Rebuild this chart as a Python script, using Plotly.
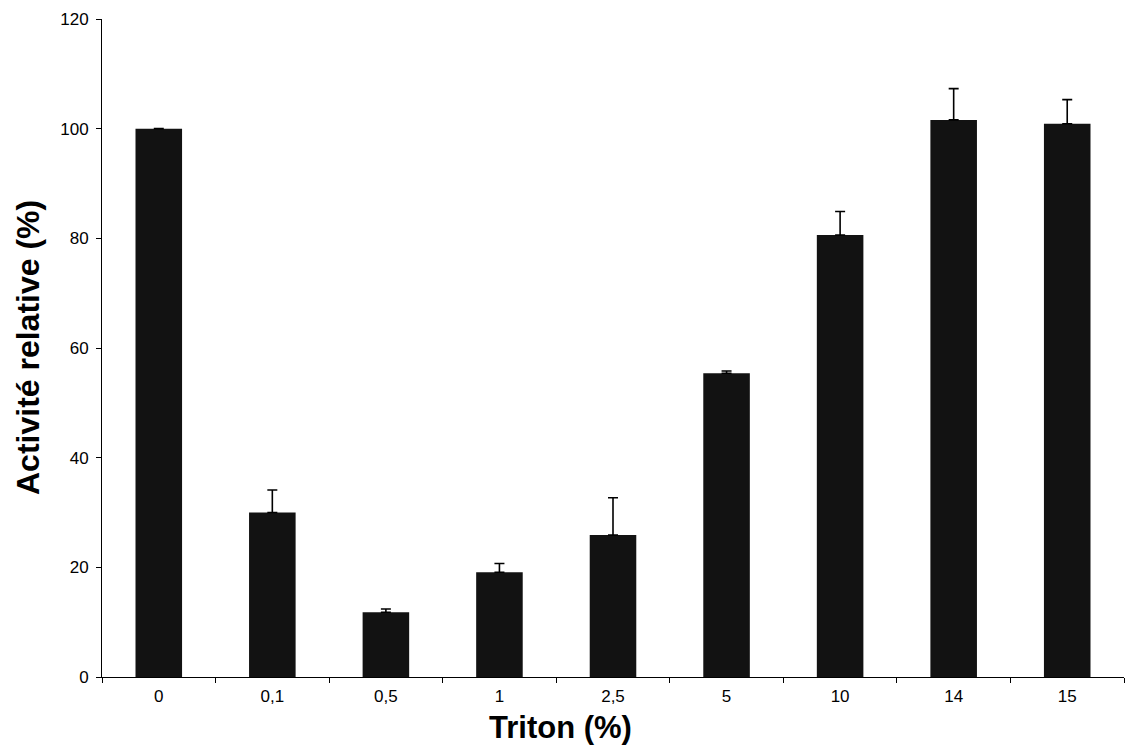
import plotly.graph_objects as go

categories = ["0", "0,1", "0,5", "1", "2,5", "5", "10", "14", "15"]
activite = [100, 30, 11.8, 19.1, 25.9, 55.4, 80.6, 101.6, 100.9]
erreur = [None, 4.1, 0.6, 1.6, 6.8, 0.4, 4.3, 5.7, 4.4]

FONT = "Liberation Sans, Arial, sans-serif"

fig = go.Figure()
fig.add_trace(go.Bar(
    x=categories,
    y=activite,
    width=0.41,
    marker=dict(color="#121212", line=dict(width=0)),
    error_y=dict(type="data", array=erreur, arrayminus=[0] * len(erreur),
                 symmetric=False, color="black", thickness=1.6, width=5),
    showlegend=False,
))

fig.update_layout(
    width=1127, height=753,
    margin=dict(l=102, r=3, t=19, b=76),
    paper_bgcolor="white", plot_bgcolor="white",
    font=dict(family=FONT, color="black", size=17),
    bargap=0.59,
    xaxis=dict(
        type="category",
        showline=True, linecolor="black", linewidth=1,
        ticks="outside", tickson="boundaries", ticklen=5, tickcolor="black",
        showgrid=False, tickfont=dict(size=17, family=FONT),
        ticklabelstandoff=4,
    ),
    yaxis=dict(
        range=[0, 120], dtick=20, tick0=0,
        showline=True, linecolor="black", linewidth=1,
        ticks="outside", ticklen=5, tickcolor="black",
        showgrid=False, zeroline=False, tickfont=dict(size=17, family=FONT),
        ticklabelstandoff=4,
    ),
    annotations=[
        dict(text="<b>Triton (%)</b>", xref="paper", yref="paper",
             x=(560 - 102) / 1022, y=(677 - 727) / 658,
             xanchor="center", yanchor="middle", showarrow=False,
             font=dict(size=31, family=FONT, color="black")),
        dict(text="<b>Activité relative (%)</b>", xref="paper", yref="paper",
             x=(28 - 102) / 1022, y=0.5, textangle=-90,
             xanchor="center", yanchor="middle", showarrow=False,
             font=dict(size=32, family=FONT, color="black")),
    ],
)

fig.write_html("out.html")
